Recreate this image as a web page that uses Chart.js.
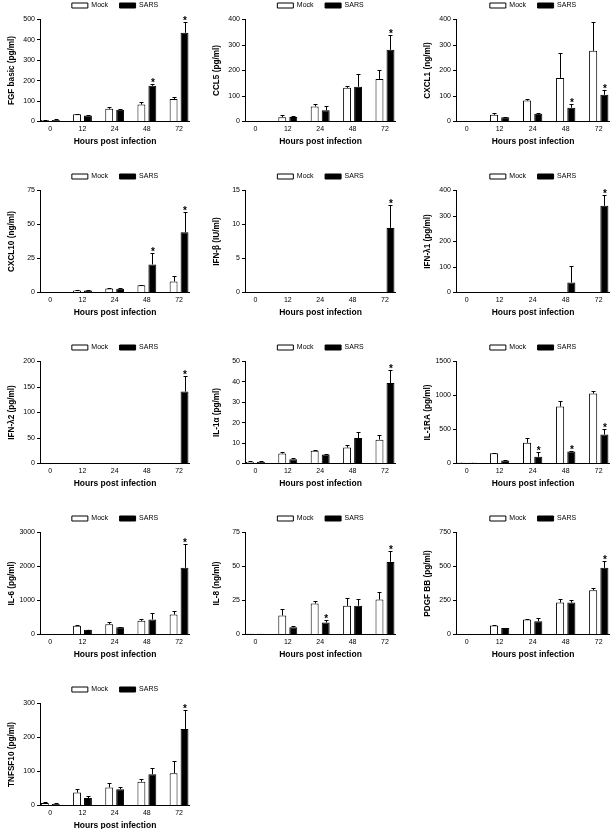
<!DOCTYPE html>
<html><head><meta charset="utf-8">
<script src="https://cdn.jsdelivr.net/npm/chart.js@4.4.1/dist/chart.umd.min.js"></script>
<style>
html,body{margin:0;padding:0;background:#fff;width:613px;height:829px;overflow:hidden;position:relative}
canvas{position:absolute}
</style></head><body>
<script>
// ---- categories / legend ----
const hours = ['0', '12', '24', '48', '72'];
const seriesNames = ['Mock', 'SARS'];

// ---- FGF basic (pg/ml) ----
const fgfMock = [7, 36, 62, 83, 110];
const fgfMockErr = [2, 3, 10, 12, 8];
const fgfSars = [7, 30, 57, 175, 435];
const fgfSarsErr = [3, 2, 3, 10, 52];
const fgfSig = [0, 0, 0, 1, 1];

// ---- CCL5 (pg/ml) ----
const ccl5Mock = [0, 17, 59, 132, 167];
const ccl5MockErr = [0, 9, 8, 8, 36];
const ccl5Sars = [0, 18, 44, 136, 281];
const ccl5SarsErr = [0, 2, 17, 51, 58];
const ccl5Sig = [0, 0, 0, 0, 1];

// ---- CXCL1 (ng/ml) ----
const cxcl1Mock = [1, 26, 82, 171, 277];
const cxcl1MockErr = [0, 8, 7, 98, 115];
const cxcl1Sars = [1, 17, 30, 54, 105];
const cxcl1SarsErr = [0, 1, 3, 15, 19];
const cxcl1Sig = [0, 0, 0, 1, 1];

// ---- CXCL10 (ng/ml) ----
const cxcl10Mock = [0, 1.5, 3, 5.4, 8.1];
const cxcl10MockErr = [0, 0.2, 0.2, 0.3, 3.9];
const cxcl10Sars = [0, 1.5, 2.7, 20.6, 44.3];
const cxcl10SarsErr = [0, 0.2, 0.5, 8.7, 14.7];
const cxcl10Sig = [0, 0, 0, 1, 1];

// ---- IFN-beta (IU/ml) ----
const ifnbMock = [0, 0, 0, 0, 0];
const ifnbMockErr = [0, 0, 0, 0, 0];
const ifnbSars = [0, 0, 0, 0, 9.5];
const ifnbSarsErr = [0, 0, 0, 0, 3.3];
const ifnbSig = [0, 0, 0, 0, 1];

// ---- IFN-lambda1 (pg/ml) ----
const ifnl1Mock = [0, 0, 0, 0, 0];
const ifnl1MockErr = [0, 0, 0, 0, 0];
const ifnl1Sars = [0, 0, 0, 39, 340];
const ifnl1SarsErr = [0, 0, 0, 65, 44];
const ifnl1Sig = [0, 0, 0, 0, 1];

// ---- IFN-lambda2 (pg/ml) ----
const ifnl2Mock = [0, 0, 0, 0, 0];
const ifnl2MockErr = [0, 0, 0, 0, 0];
const ifnl2Sars = [0, 0, 0, 0, 141];
const ifnl2SarsErr = [0, 0, 0, 0, 30];
const ifnl2Sig = [0, 0, 0, 0, 1];

// ---- IL-1alpha (pg/ml) ----
const il1aMock = [0.8, 4.9, 6.3, 7.8, 11.7];
const il1aMockErr = [0.2, 0.6, 0.2, 1.3, 2.1];
const il1aSars = [0.8, 2.1, 4.4, 12.5, 39.4];
const il1aSarsErr = [0.2, 0.5, 0.3, 2.8, 6.6];
const il1aSig = [0, 0, 0, 0, 1];

// ---- IL-1RA (pg/ml) ----
const il1raMock = [10, 152, 304, 838, 1029];
const il1raMockErr = [3, 5, 78, 83, 40];
const il1raSars = [10, 44, 98, 176, 426];
const il1raSarsErr = [3, 5, 64, 10, 79];
const il1raSig = [0, 0, 1, 1, 1];

// ---- IL-6 (pg/ml) ----
const il6Mock = [0, 255, 304, 402, 588];
const il6MockErr = [0, 29, 49, 68, 98];
const il6Sars = [0, 137, 216, 441, 1961];
const il6SarsErr = [0, 10, 9, 177, 715];
const il6Sig = [0, 0, 0, 0, 1];

// ---- IL-8 (ng/ml) ----
const il8Mock = [0.5, 14, 22.8, 21.1, 25.7];
const il8MockErr = [0, 5.1, 2, 6.1, 5.2];
const il8Sars = [0.5, 5.4, 8.8, 21.1, 53.4];
const il8SarsErr = [0, 1, 1.5, 4.9, 8.1];
const il8Sig = [0, 0, 1, 0, 1];

// ---- PDGF BB (pg/ml) ----
const pdgfMock = [0, 66, 110, 235, 326];
const pdgfMockErr = [0, 3, 5, 27, 17];
const pdgfSars = [0, 47, 98, 235, 490];
const pdgfSarsErr = [0, 2, 25, 20, 54];
const pdgfSig = [0, 0, 0, 0, 1];

// ---- TNFSF10 (pg/ml) ----
const tnfMock = [7, 38, 53, 70, 95];
const tnfMockErr = [2, 12, 12, 8, 35];
const tnfSars = [5, 22, 48, 92, 225];
const tnfSarsErr = [2, 6, 6, 18, 55];
const tnfSig = [0, 0, 0, 0, 1];

// ---- y-axis titles and tick ranges ----
const yTitles = ['FGF basic (pg/ml)', 'CCL5 (pg/ml)', 'CXCL1 (ng/ml)', 'CXCL10 (ng/ml)', 'IFN-β (IU/ml)',
  'IFN-λ1 (pg/ml)', 'IFN-λ2 (pg/ml)', 'IL-1α (pg/ml)', 'IL-1RA (pg/ml)', 'IL-6 (pg/ml)', 'IL-8 (ng/ml)',
  'PDGF BB (pg/ml)', 'TNFSF10 (pg/ml)'];
const yMax = [500, 400, 400, 75, 15, 400, 200, 50, 1500, 3000, 75, 750, 300];
const yStep = [100, 100, 100, 25, 5, 100, 50, 10, 500, 1000, 25, 250, 100];
const xTitle = 'Hours post infection';

const panelSeries = [
  [fgfMock, fgfMockErr, fgfSars, fgfSarsErr, fgfSig],
  [ccl5Mock, ccl5MockErr, ccl5Sars, ccl5SarsErr, ccl5Sig],
  [cxcl1Mock, cxcl1MockErr, cxcl1Sars, cxcl1SarsErr, cxcl1Sig],
  [cxcl10Mock, cxcl10MockErr, cxcl10Sars, cxcl10SarsErr, cxcl10Sig],
  [ifnbMock, ifnbMockErr, ifnbSars, ifnbSarsErr, ifnbSig],
  [ifnl1Mock, ifnl1MockErr, ifnl1Sars, ifnl1SarsErr, ifnl1Sig],
  [ifnl2Mock, ifnl2MockErr, ifnl2Sars, ifnl2SarsErr, ifnl2Sig],
  [il1aMock, il1aMockErr, il1aSars, il1aSarsErr, il1aSig],
  [il1raMock, il1raMockErr, il1raSars, il1raSarsErr, il1raSig],
  [il6Mock, il6MockErr, il6Sars, il6SarsErr, il6Sig],
  [il8Mock, il8MockErr, il8Sars, il8SarsErr, il8Sig],
  [pdgfMock, pdgfMockErr, pdgfSars, pdgfSarsErr, pdgfSig],
  [tnfMock, tnfMockErr, tnfSars, tnfSarsErr, tnfSig]
];

// ---- layout (panel placement only) ----
const colAxisX = [40, 245, 456];
const colPlotW = [150, 151, 154];
const rowTopY = [19, 190, 361, 532, 703];
const plotH = 102;

Chart.defaults.font.family = "'Liberation Sans', Arial, Helvetica, sans-serif";
Chart.defaults.color = '#000';
Chart.defaults.animation = false;

const errorBars = {
  id: 'errorBars',
  afterDatasetsDraw(chart) {
    const ctx = chart.ctx;
    const ys = chart.scales.y;
    ctx.save();
    ctx.strokeStyle = '#000';
    ctx.fillStyle = '#000';
    ctx.lineWidth = 1;
    ctx.font = "bold 10px 'Liberation Sans', Arial, sans-serif";
    ctx.textAlign = 'center';
    ctx.textBaseline = 'alphabetic';
    chart.data.datasets.forEach((ds, di) => {
      const meta = chart.getDatasetMeta(di);
      meta.data.forEach((bar, i) => {
        const v = ds.data[i];
        const e = ds.errors[i] || 0;
        if (!v) return;
        const x = Math.round(bar.x) + 0.5;
        const top = Math.round(ys.getPixelForValue(v + e)) + 0.5;
        if (e > 0) {
          ctx.beginPath();
          ctx.moveTo(x, bar.y);
          ctx.lineTo(x, top);
          ctx.moveTo(x - 2, top);
          ctx.lineTo(x + 2, top);
          ctx.stroke();
        }
        if (ds.sig && ds.sig[i]) {
          ctx.fillText('*', bar.x + 0.5, top + 1.5);
        }
      });
    });
    ctx.restore();
  }
};

const placeLegend = {
  id: 'placeLegend',
  afterLayout(chart) {
    const L = chart.legend, ca = chart.chartArea;
    if (!L || !ca) return;
    L.left = ca.left;
    L.right = ca.right;
    L.top = ca.top - 14 - L.options.labels.padding - 3.5;
  }
};

panelSeries.forEach((s, idx) => {
  const col = idx % 3, row = Math.floor(idx / 3);
  const cv = document.createElement('canvas');
  cv.width = 240; cv.height = 160;
  document.body.appendChild(cv);
  const chart = new Chart(cv, {
    type: 'bar',
    data: {
      labels: hours.map((_, i) => i),
      datasets: [
        { label: seriesNames[0], data: s[0], errors: s[1], backgroundColor: '#fff', borderColor: '#000', borderWidth: 1,
          categoryPercentage: 0.68, barPercentage: 0.72 },
        { label: seriesNames[1], data: s[2], errors: s[3], sig: s[4], backgroundColor: '#000', borderColor: '#000', borderWidth: 1,
          categoryPercentage: 0.68, barPercentage: 0.72 }
      ]
    },
    options: {
      responsive: false,
      maintainAspectRatio: false,
      animation: false,
      events: [],
      layout: { padding: 0 },
      plugins: {
        tooltip: { enabled: false },
        legend: { display: true, position: 'top',
          labels: { boxWidth: 16, boxHeight: 5, padding: 11.5, color: '#000', font: { size: 7 } } }
      },
      scales: {
        x: {
          type: 'linear', min: -0.32, max: 4.34, offset: false,
          grid: { display: false, drawTicks: false, offset: false },
          border: { display: true, color: '#000', width: 1 },
          afterBuildTicks: sc => { sc.ticks = hours.map((_, i) => ({ value: i })); },
          ticks: { font: { size: 7 }, padding: 3, autoSkip: false, maxRotation: 0,
            callback: v => hours[Math.round(v)] },
          title: { display: true, text: xTitle, font: { size: 8.5, weight: 'bold' }, padding: { top: 0.5, bottom: 0 } }
        },
        y: {
          min: 0, max: yMax[idx],
          ticks: { stepSize: yStep[idx], font: { size: 7 }, padding: 2, callback: v => String(v) },
          grid: { drawOnChartArea: false, drawTicks: true, tickLength: 3, color: '#000' },
          border: { display: true, color: '#000', width: 1 },
          title: { display: true, text: yTitles[idx], font: { size: 8.2, weight: 'bold' }, padding: { top: 7, bottom: 0 } },
          afterFit: sc => { sc.width = 40; }
        }
      }
    },
    plugins: [errorBars, placeLegend]
  });
  let ca = chart.chartArea;
  const w = 240 + (colPlotW[col] - (ca.right - ca.left));
  const h = 160 + (plotH - (ca.bottom - ca.top));
  chart.resize(w, h);
  ca = chart.chartArea;
  cv.style.left = (colAxisX[col] - ca.left) + 'px';
  cv.style.top = (rowTopY[row] - ca.top) + 'px';
});
</script>
</body></html>
